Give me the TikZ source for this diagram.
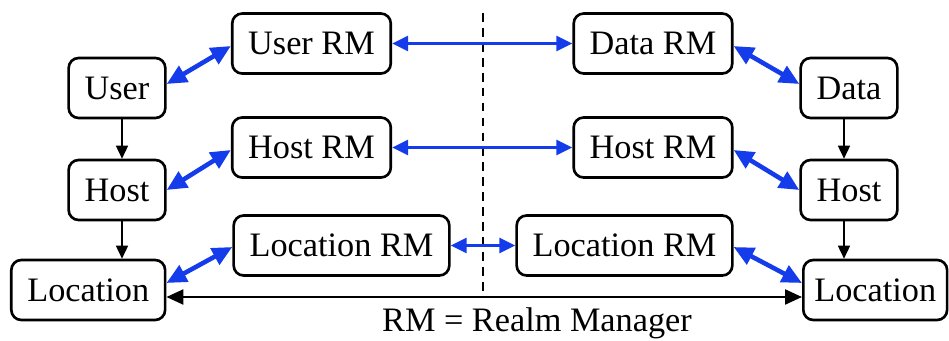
\documentclass[tikz,border=0pt]{standalone}
\usepackage{fontspec}
\setmainfont{Liberation Serif}
\usepackage{tikz}
\usetikzlibrary{arrows.meta}
\definecolor{rmblue}{RGB}{20,60,235}

\begin{document}
\begin{tikzpicture}[
  box/.style={draw, line width=1.5pt, rounded corners=0.2cm, minimum height=1.2cm, inner xsep=0.32cm, font=\fontsize{19.5}{22}\selectfont},
  rmlink/.style={rmblue, line width=1.5pt, {Triangle[length=0.32cm,width=0.3cm]}-{Triangle[length=0.32cm,width=0.3cm]}},
  biglink/.style={rmblue, line width=2.6pt, {Triangle[length=0.4cm,width=0.36cm]}-{Triangle[length=0.4cm,width=0.36cm]}},
  downlink/.style={line width=0.9pt, -{Triangle[length=0.26cm,width=0.24cm]}},
  peerlink/.style={line width=1.3pt, {Triangle[length=0.34cm,width=0.3cm]}-{Triangle[length=0.34cm,width=0.3cm]}}
]

\useasboundingbox (0,0) rectangle (18.98,6.8);

%left side
\node[box] (user) at (2.34,5.04) {User};
\node[box] (hostl) at (2.34,3.0) {Host};
\node[box, anchor=west] (locl) at (0.2,1.0) {Location};

\node[box] (userrm) at (6.23,5.93) {User RM};
\node[box] (hostrml) at (6.23,3.85) {Host RM};
\node[box] (locrml) at (6.83,1.89) {Location RM};


%right side
\node[box] (data) at (16.98,5.04) {Data};
\node[box] (hostr) at (16.98,3.0) {Host};
\node[box, anchor=west, inner xsep=0.22cm] (locr) at (16.04,1.0) {Location};

\node[box] (datarm) at (13.06,5.93) {Data RM};
\node[box] (hostrmr) at (13.06,3.85) {Host RM};
\node[box] (locrmr) at (12.49,1.89) {Location RM};


%divider
\coordinate (divtop) at (9.66,6.54);
\coordinate (divbot) at (9.66,0.86);
\draw[line width=0.9pt, dash pattern=on 5pt off 3.5pt] (divtop) -- (divbot);


\draw[downlink] ([xshift=0.1cm]user.south) -- ([xshift=0.1cm]hostl.north);
\draw[downlink] ([xshift=0.1cm]hostl.south) -- ([xshift=0.1cm]hostl.south |- locl.north);
\draw[downlink] ([xshift=-0.1cm]data.south) -- ([xshift=-0.1cm]hostr.north);
\draw[downlink] ([xshift=-0.1cm]hostr.south) -- ([xshift=-0.1cm]hostr.south |- locr.north);


\draw[biglink] ([yshift=0.08cm]user.east) -- ([yshift=-0.05cm]userrm.west);
\draw[biglink] (hostl.east) -- ([yshift=-0.05cm]hostrml.west);
\draw[biglink] ([yshift=0.14cm]locl.east) -- ([yshift=-0.03cm]locrml.west);

\draw[biglink] ([yshift=-0.05cm]datarm.east) -- ([yshift=0.08cm]data.west);
\draw[biglink] ([yshift=-0.05cm]hostrmr.east) -- (hostr.west);
\draw[biglink] ([yshift=-0.03cm]locrmr.east) -- ([yshift=0.14cm]locr.west);


\draw[rmlink] (userrm) -- (datarm);
\draw[rmlink] (hostrml) -- (hostrmr);
\draw[rmlink] (locrml) -- (locrmr);

\draw[peerlink] ([yshift=-0.14cm]locl.east) -- ([yshift=-0.14cm]locr.west);


\node[font=\fontsize{19.5}{22}\selectfont] (legend) at (10.74,0.34) {RM = Realm Manager};

\end{tikzpicture}
\end{document}
